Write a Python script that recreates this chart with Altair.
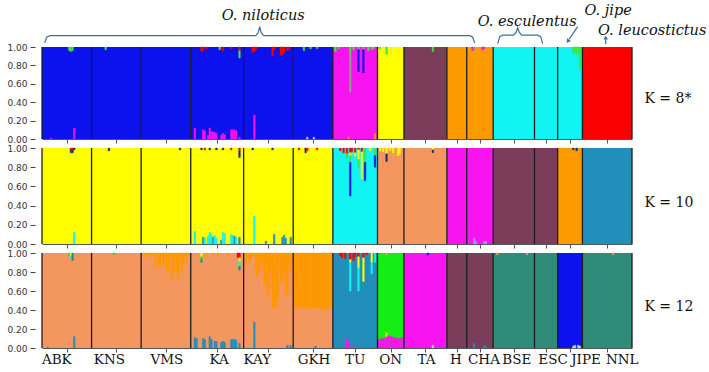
import altair as alt
import numpy as np
import pandas as pd

# ---------------- data ----------------
POPS = ["ABK", "KNS", "VMS", "KA", "KAY", "GKH", "TU", "ON", "TA", "H", "CHA", "BSE", "ESC", "JIPE", "NNL"]
COUNTS = [30, 30, 30, 32, 30, 24, 27, 16, 26, 12, 16, 25, 14, 15, 30]
K_LABELS = ["K = 8*", "K = 10", "K = 12"]

MAIN_K8 = ["blue", "blue", "blue", "blue", "blue", "blue", "magenta", "yellow", "mauve",
           "orange", "orange", "cyan", "cyan", "cyan", "red"]
MAIN_K10 = ["yellow", "yellow", "yellow", "yellow", "yellow", "yellow", "cyan", "salmon", "salmon",
            "magenta", "magenta", "mauve", "mauve", "orange", "tealblue"]
MAIN_K12 = ["salmon", "salmon", "salmon", "salmon", "salmon", "salmon", "tealblue", "lime", "magenta",
            "mauve", "mauve", "tealgreen", "tealgreen", "blue", "tealgreen"]

# (population, individual within population, [(cluster, share), ...] from the top down)
TOP_K8 = [
    ("ABK", 16, [("green", 0.04)]), ("ABK", 17, [("green", 0.05)]), ("ABK", 18, [("green", 0.04)]),
    ("KNS", 8, [("green", 0.03)]),
    ("KA", 6, [("red", 0.05)]), ("KA", 7, [("red", 0.04)]), ("KA", 9, [("red", 0.02)]),
    ("KA", 17, [("green", 0.03)]), ("KA", 19, [("red", 0.04)]), ("KA", 24, [("red", 0.02)]),
    ("KA", 29, [("red", 0.04), ("green", 0.08)]),
    ("KAY", 5, [("red", 0.06)]), ("KAY", 6, [("red", 0.05)]), ("KAY", 7, [("red", 0.03)]),
    ("KAY", 17, [("red", 0.10)]), ("KAY", 18, [("red", 0.03)]), ("KAY", 22, [("red", 0.09)]),
    ("KAY", 23, [("red", 0.08)]), ("KAY", 24, [("red", 0.06)]), ("KAY", 26, [("red", 0.04)]),
    ("KAY", 27, [("red", 0.03)]),
    ("GKH", 6, [("green", 0.04)]), ("GKH", 10, [("green", 0.02)]), ("GKH", 14, [("gray", 0.02)]),
    ("TU", 0, [("green", 0.03)]), ("TU", 1, [("green", 0.05)]), ("TU", 3, [("green", 0.02)]),
    ("TU", 10, [("green", 0.08), ("gray", 0.41)]), ("TU", 12, [("green", 0.03)]),
    ("TU", 15, [("gray", 0.03), ("blue", 0.24)]), ("TU", 18, [("gray", 0.03), ("blue", 0.25)]),
    ("TU", 21, [("green", 0.04)]), ("TU", 23, [("gray", 0.03)]), ("TU", 24, [("green", 0.02)]),
    ("ON", 1, [("green", 0.02)]), ("ON", 5, [("green", 0.08)]),
    ("TA", 17, [("green", 0.05)]),
    ("CHA", 3, [("magenta", 0.04)]), ("CHA", 4, [("gray", 0.03)]), ("CHA", 9, [("magenta", 0.03)]),
    ("CHA", 10, [("magenta", 0.02)]),
    ("JIPE", 9, [("green", 0.07)]), ("JIPE", 10, [("green", 0.06)]), ("JIPE", 11, [("green", 0.08)]),
    ("JIPE", 12, [("green", 0.07)]), ("JIPE", 13, [("green", 0.24)]),
]
# (population, individual, [(cluster, share), ...] from the bottom up)
BOT_K8 = [
    ("ABK", 5, [("magenta", 0.01)]), ("ABK", 19, [("magenta", 0.12)]),
    ("KA", 2, [("magenta", 0.12)]), ("KA", 7, [("magenta", 0.10)]), ("KA", 8, [("magenta", 0.09)]),
    ("KA", 10, [("magenta", 0.04)]), ("KA", 11, [("magenta", 0.12)]), ("KA", 12, [("magenta", 0.08)]),
    ("KA", 13, [("magenta", 0.08)]), ("KA", 14, [("magenta", 0.07)]), ("KA", 15, [("magenta", 0.06)]),
    ("KA", 18, [("magenta", 0.04)]), ("KA", 19, [("magenta", 0.06)]), ("KA", 20, [("magenta", 0.05)]),
    ("KA", 24, [("magenta", 0.10)]), ("KA", 25, [("magenta", 0.10)]), ("KA", 26, [("magenta", 0.10)]),
    ("KA", 27, [("magenta", 0.09)]), ("KA", 29, [("magenta", 0.02)]),
    ("KAY", 6, [("magenta", 0.26)]),
    ("GKH", 8, [("lightblue", 0.02)]), ("GKH", 12, [("lightblue", 0.02)]),
    ("TU", 9, [("orange", 0.02)]), ("TU", 25, [("orange", 0.06)]),
]

TOP_K10 = [
    ("ABK", 17, [("red", 0.02), ("navy", 0.03)]), ("ABK", 18, [("red", 0.02), ("navy", 0.03)]),
    ("ABK", 19, [("navy", 0.02)]),
    ("KNS", 10, [("navy", 0.03)]), ("VMS", 23, [("navy", 0.02)]),
    ("KA", 6, [("navy", 0.02)]), ("KA", 8, [("red", 0.02)]), ("KA", 11, [("navy", 0.02)]),
    ("KA", 15, [("navy", 0.02)]), ("KA", 19, [("navy", 0.02)]), ("KA", 24, [("red", 0.02)]),
    ("KA", 29, [("red", 0.03), ("navy", 0.07)]),
    ("KAY", 5, [("navy", 0.02)]), ("KAY", 17, [("navy", 0.02)]),
    ("GKH", 3, [("red", 0.02)]), ("GKH", 7, [("navy", 0.05)]), ("GKH", 8, [("red", 0.03)]),
    ("GKH", 14, [("red", 0.02)]),
    ("TU", 4, [("red", 0.03)]), ("TU", 6, [("red", 0.05)]), ("TU", 8, [("red", 0.06), ("green", 0.04)]),
    ("TU", 10, [("red", 0.05), ("yellow", 0.03), ("green", 0.07), ("blue", 0.35)]),
    ("TU", 11, [("red", 0.04)]), ("TU", 13, [("red", 0.05), ("yellow", 0.04)]),
    ("TU", 15, [("red", 0.02), ("yellow", 0.10), ("green", 0.08)]),
    ("TU", 17, [("red", 0.04), ("yellow", 0.28)]), ("TU", 19, [("green", 0.15), ("blue", 0.19)]),
    ("TU", 22, [("yellow", 0.03)]), ("TU", 25, [("green", 0.08), ("blue", 0.12)]),
    ("ON", 1, [("yellow", 0.03)]), ("ON", 3, [("yellow", 0.04)]), ("ON", 5, [("yellow", 0.06), ("navy", 0.08)]),
    ("ON", 7, [("yellow", 0.03)]), ("ON", 9, [("yellow", 0.05)]), ("ON", 12, [("yellow", 0.08)]),
    ("ON", 13, [("yellow", 0.06)]),
    ("TA", 17, [("yellow", 0.02), ("navy", 0.03)]),
    ("JIPE", 9, [("navy", 0.02)]), ("JIPE", 11, [("navy", 0.03)]),
]
BOT_K10 = [
    ("ABK", 19, [("cyan", 0.12)]),
    ("KA", 2, [("cyan", 0.13)]), ("KA", 7, [("tealblue", 0.07)]), ("KA", 8, [("cyan", 0.06)]),
    ("KA", 10, [("cyan", 0.08)]), ("KA", 11, [("cyan", 0.12)]), ("KA", 12, [("cyan", 0.10)]),
    ("KA", 13, [("tealblue", 0.07)]), ("KA", 14, [("cyan", 0.09)]), ("KA", 15, [("cyan", 0.06)]),
    ("KA", 18, [("tealblue", 0.04)]), ("KA", 19, [("cyan", 0.12)]), ("KA", 20, [("cyan", 0.11)]),
    ("KA", 24, [("cyan", 0.10)]), ("KA", 25, [("cyan", 0.09)]), ("KA", 26, [("tealblue", 0.08)]),
    ("KA", 27, [("cyan", 0.07)]), ("KA", 29, [("tealblue", 0.07)]),
    ("KAY", 6, [("cyan", 0.29)]), ("KAY", 13, [("tealblue", 0.03)]), ("KAY", 18, [("tealblue", 0.10)]),
    ("KAY", 23, [("tealblue", 0.07)]), ("KAY", 24, [("tealblue", 0.09)]), ("KAY", 25, [("tealblue", 0.06)]),
    ("KAY", 28, [("tealblue", 0.07)]),
    ("CHA", 4, [("lavender", 0.06)]), ("CHA", 5, [("lavender", 0.03)]), ("CHA", 10, [("lavender", 0.02)]),
    ("CHA", 11, [("lavender", 0.03)]),
]

VMS_ORANGE_K12 = [0.01, 0.01, 0.02, 0.06, 0.02, 0.01, 0.02, 0.02, 0.15, 0.02, 0.14, 0.14, 0.03, 0.14, 0.03,
                  0.21, 0.20, 0.05, 0.28, 0.20, 0.04, 0.20, 0.26, 0.06, 0.20, 0.12, 0.03, 0.10, 0.02, 0.01]
KAY_ORANGE_K12 = [0.02, 0.12, 0.04, 0.10, 0.05, 0.03, 0.03, 0.22, 0.25, 0.20, 0.08, 0.15, 0.34, 0.30, 0.46,
                  0.40, 0.20, 0.58, 0.56, 0.58, 0.50, 0.15, 0.32, 0.30, 0.20, 0.45, 0.43, 0.10, 0.20, 0.05]
GKH_ORANGE_K12 = [0.55, 0.58, 0.57, 0.58, 0.58, 0.56, 0.58, 0.59, 0.58, 0.57, 0.58, 0.58,
                  0.58, 0.58, 0.57, 0.58, 0.59, 0.58, 0.60, 0.60, 0.58, 0.57, 0.58, 0.58]
ON_MAGENTA_K12 = [0.09, 0.09, 0.10, 0.10, 0.10, 0.12, 0.13, 0.12, 0.12, 0.11, 0.11, 0.10, 0.10, 0.10, 0.11, 0.10]

TOP_K12 = [
    ("ABK", 16, [("lime", 0.03)]), ("ABK", 17, [("yellow", 0.03), ("cyan", 0.02)]),
    ("ABK", 18, [("tealgreen", 0.08)]), ("KNS", 13, [("lime", 0.02)]),
    ("KA", 6, [("yellow", 0.04), ("lime", 0.03), ("tealgreen", 0.03)]), ("KA", 9, [("orange", 0.04)]),
    ("KA", 13, [("orange", 0.03)]), ("KA", 16, [("orange", 0.03)]), ("KA", 22, [("orange", 0.02)]),
    ("KA", 28, [("red", 0.05)]),
    ("KA", 29, [("red", 0.05), ("yellow", 0.04), ("cyan", 0.05), ("tealgreen", 0.04)]),
    ("TU", 4, [("red", 0.03)]), ("TU", 5, [("red", 0.05)]), ("TU", 7, [("red", 0.06)]),
    ("TU", 10, [("red", 0.07), ("yellow", 0.03), ("cyan", 0.30)]),
    ("TU", 12, [("red", 0.08)]), ("TU", 13, [("red", 0.04)]),
    ("TU", 15, [("red", 0.04), ("yellow", 0.12), ("cyan", 0.24)]),
    ("TU", 18, [("red", 0.05), ("yellow", 0.25)]), ("TU", 20, [("red", 0.02)]),
    ("TU", 23, [("yellow", 0.10), ("cyan", 0.12)]), ("TU", 25, [("cyan", 0.10)]),
    ("ON", 5, [("salmon", 0.02)]), ("TA", 14, [("blue", 0.02)]),
    ("BSE", 2, [("salmon", 0.02)]), ("BSE", 20, [("salmon", 0.02)]), ("NNL", 18, [("salmon", 0.02)]),
]
BOT_K12 = [
    ("ABK", 3, [("tealblue", 0.01)]), ("ABK", 19, [("tealblue", 0.12)]),
    ("KA", 2, [("tealblue", 0.11)]), ("KA", 3, [("tealblue", 0.10)]), ("KA", 7, [("tealblue", 0.10)]),
    ("KA", 8, [("tealblue", 0.09)]), ("KA", 11, [("tealblue", 0.12)]), ("KA", 12, [("tealblue", 0.09)]),
    ("KA", 14, [("tealblue", 0.07)]), ("KA", 15, [("tealblue", 0.07)]), ("KA", 18, [("tealblue", 0.06)]),
    ("KA", 19, [("tealblue", 0.07)]), ("KA", 20, [("tealblue", 0.06)]), ("KA", 24, [("tealblue", 0.09)]),
    ("KA", 25, [("tealblue", 0.09)]), ("KA", 26, [("tealblue", 0.09)]), ("KA", 27, [("tealblue", 0.08)]),
    ("KA", 29, [("tealblue", 0.05)]),
    ("KAY", 6, [("tealblue", 0.27)]), ("KAY", 26, [("tealblue", 0.03)]), ("KAY", 28, [("tealblue", 0.03)]),
    ("GKH", 13, [("tealblue", 0.02)]),
    ("TU", 8, [("magenta", 0.10)]), ("TU", 9, [("magenta", 0.06)]), ("TU", 11, [("magenta", 0.03)]),
    ("ON", 5, [("yellow", 0.04)]),
    ("TA", 17, [("lightblue", 0.03)]),
    ("CHA", 4, [("tealblue", 0.05)]), ("CHA", 10, [("tealblue", 0.02)]), ("CHA", 11, [("tealblue", 0.02)]),
    ("JIPE", 9, [("lightblue", 0.02)]), ("JIPE", 10, [("lightblue", 0.03)]),
    ("JIPE", 12, [("lightblue", 0.03)]), ("JIPE", 13, [("lightblue", 0.02)]),
]
K12_TOP_LISTS = [("VMS", "orange", VMS_ORANGE_K12), ("KAY", "orange", KAY_ORANGE_K12),
                 ("GKH", "orange", GKH_ORANGE_K12)]
K12_BOT_LISTS = [("ON", "magenta", ON_MAGENTA_K12)]

SPECIES = ["O. niloticus", "O. esculentus", "O. jipe", "O. leucostictus"]

# ---------------- styling / layout ----------------
SERIF = "DejaVu Serif"
COLORS = {
    "blue": "#0b12ee", "magenta": "#f814f0", "yellow": "#ffff00", "mauve": "#7b3d5a",
    "orange": "#fd9a00", "cyan": "#12f4f4", "red": "#fb0000", "green": "#3ee63e",
    "gray": "#8f9c8a", "salmon": "#f4975f", "tealblue": "#2090ba", "tealgreen": "#2e8c78",
    "lime": "#14ee14", "navy": "#1c2a80", "lavender": "#9a9aff", "lightblue": "#c8d2ff",
}
cscale = alt.Scale(domain=list(COLORS.keys()), range=list(COLORS.values()))
N = int(sum(COUNTS))
START = dict(zip(POPS, np.cumsum([0] + COUNTS[:-1]).tolist()))
CENTERS = [START[p] + c / 2 for p, c in zip(POPS, COUNTS)]
PX = 590 / N  # pixels per individual
LABEL_NUDGE_PX = [-10, -7, 1, 2, -11, 1, 0, 0, 1, -1, 4, 3, 7, 16, 15]

xs = alt.Scale(domain=[0, N], nice=False, zero=False)
ys = alt.Scale(domain=[0, 1], nice=False, zero=False)
YAXIS = alt.Axis(values=[0, 0.2, 0.4, 0.6, 0.8, 1.0], format=".2f", labelFont="DejaVu Sans",
                 labelFontSize=9, labelColor="#333", tickColor="#444", tickSize=5, offset=7,
                 domain=False, grid=False, title=None, labelPadding=3)
XAXIS = alt.Axis(values=CENTERS, labels=False, tickSize=4, grid=False, title=None,
                 domainColor="#555", tickColor="#555", domainWidth=1.2)


def X(f):
    return alt.X(f, scale=xs, axis=XAXIS)


def Y(f):
    return alt.Y(f, scale=ys, axis=YAXIS)


def rows_for(main, tops, bots, top_lists=(), bot_lists=()):
    top = {(p, i): list(s) for p, i, s in tops}
    bot = {(p, i): list(s) for p, i, s in bots}
    for p, c, vals in top_lists:
        for i, v in enumerate(vals):
            top[(p, i)] = [(c, v)] + top.get((p, i), [])
    for p, c, vals in bot_lists:
        for i, v in enumerate(vals):
            bot[(p, i)] = [(c, v)] + bot.get((p, i), [])
    bg = [dict(x=START[p], x2=START[p] + n, y=0.0, y2=1.0, c=m) for p, n, m in zip(POPS, COUNTS, main)]
    dev = []
    for (p, i), segs in top.items():
        g = START[p] + i
        y = 1.0
        for c, f in segs:
            dev.append(dict(x=g, x2=g + 1, y=y - f, y2=y, c=c))
            y -= f
    for (p, i), segs in bot.items():
        g = START[p] + i
        y = 0.0
        for c, f in segs:
            dev.append(dict(x=g, x2=g + 1, y=y, y2=y + f, c=c))
            y += f
    return pd.DataFrame(bg), pd.DataFrame(dev)


bounds_df = pd.DataFrame({"x": [0] + np.cumsum(COUNTS).tolist(), "y": 0.0, "y2": 1.0})


def make_panel(main, tops, bots, h, klabel, top_lists=(), bot_lists=(), extra=()):
    bg, dev = rows_for(main, tops, bots, top_lists, bot_lists)
    l_bg = alt.Chart(bg).mark_rect().encode(
        x=X("x:Q"), x2="x2:Q", y=Y("y:Q"), y2="y2:Q",
        color=alt.Color("c:N", scale=cscale, legend=None))
    l_dev = alt.Chart(dev).mark_rect(strokeWidth=0.4).encode(
        x=X("x:Q"), x2="x2:Q", y=Y("y:Q"), y2="y2:Q",
        color=alt.Color("c:N", scale=cscale, legend=None),
        stroke=alt.Stroke("c:N", scale=cscale, legend=None))
    l_rule = alt.Chart(bounds_df).mark_rule(color="#1c1c1c", strokeWidth=1.3).encode(
        x=X("x:Q"), y=Y("y:Q"), y2="y2:Q")
    kdf = pd.DataFrame({"t": [klabel], "x": [N + 7.5], "y": [0.43]})
    l_k = alt.Chart(kdf).mark_text(align="left", baseline="middle", font=SERIF,
                                   fontSize=14, color="#111").encode(
        x=X("x:Q"), y=Y("y:Q"), text="t:N")
    return alt.layer(l_bg, l_dev, l_rule, l_k, *extra).properties(width=590, height=h)


# annotations for the top panel (species names, braces, arrows)
def bx(px):
    return (px - 42.3) / PX


def by(py):
    return 1 + (47.3 - py) / 92


sp_df = pd.DataFrame({"t": SPECIES,
                      "x": [bx(263.5), bx(527.5), bx(608.5), bx(652.5)],
                      "y": [by(20.7), by(26.7), by(15), by(35)]})
l_sp = alt.Chart(sp_df).mark_text(font=SERIF, fontStyle="italic", fontSize=14.5,
                                  align="center", baseline="alphabetic", color="#111").encode(
    x=X("x:Q"), y=Y("y:Q"), text="t:N")


def brace(g, l, t, r, yl, ye, yt):
    pts = [(l, ye), (l + 2, yl + 1.5), (l + 5, yl), (t - 4, yl), (t - 1.5, yl - 3), (t, yt),
           (t + 1.5, yl - 3), (t + 4, yl), (r - 5, yl), (r - 2, yl + 1.5), (r, ye)]
    return [dict(g=g, o=k, x=bx(px), y=by(py)) for k, (px, py) in enumerate(pts)]


line_rows = (brace("nil", 45, 260, 475, 36, 43, 27) + brace("esc", 498, 518, 543, 35.5, 44, 28)
             + [dict(g="jipe", o=0, x=bx(578), y=by(27)), dict(g="jipe", o=1, x=bx(569.5), y=by(39.5)),
                dict(g="leu", o=0, x=bx(606), y=by(44.5)), dict(g="leu", o=1, x=bx(606), y=by(39.5))])
l_lines = alt.Chart(pd.DataFrame(line_rows)).mark_line(color="#3f6f9c", strokeWidth=1.2).encode(
    x=X("x:Q"), y=Y("y:Q"), detail="g:N", order="o:Q")
head_df = pd.DataFrame({"x": [bx(568.5), bx(606)], "y": [by(41), by(38.5)], "a": [215, 0]})
l_heads = alt.Chart(head_df).mark_point(shape="triangle", filled=True, size=22, color="#3f6f9c",
                                        opacity=1).encode(
    x=X("x:Q"), y=Y("y:Q"), angle=alt.Angle("a:Q", scale=None))

# population labels under the bottom panel
lab_df = pd.DataFrame({"t": POPS, "x": [c + d / PX for c, d in zip(CENTERS, LABEL_NUDGE_PX)],
                       "y": [-0.165] * len(POPS)})
l_lab = alt.Chart(lab_df).mark_text(font=SERIF, fontSize=13.5, align="center",
                                    baseline="alphabetic", color="#111").encode(
    x=X("x:Q"), y=Y("y:Q"), text="t:N")

p1 = make_panel(MAIN_K8, TOP_K8, BOT_K8, 92, K_LABELS[0], extra=(l_lines, l_heads, l_sp))
p2 = make_panel(MAIN_K10, TOP_K10, BOT_K10, 96, K_LABELS[1])
p3 = make_panel(MAIN_K12, TOP_K12, BOT_K12, 95, K_LABELS[2], K12_TOP_LISTS, K12_BOT_LISTS,
                extra=(l_lab,))

chart = alt.vconcat(p1, p2, p3, spacing=9, bounds="flush").properties(
    padding={"left": 6, "top": 2, "right": 2, "bottom": 2}, background="white"
).configure_view(stroke=None)

chart.save("out.html", embed_options={"renderer": "svg", "actions": False})
